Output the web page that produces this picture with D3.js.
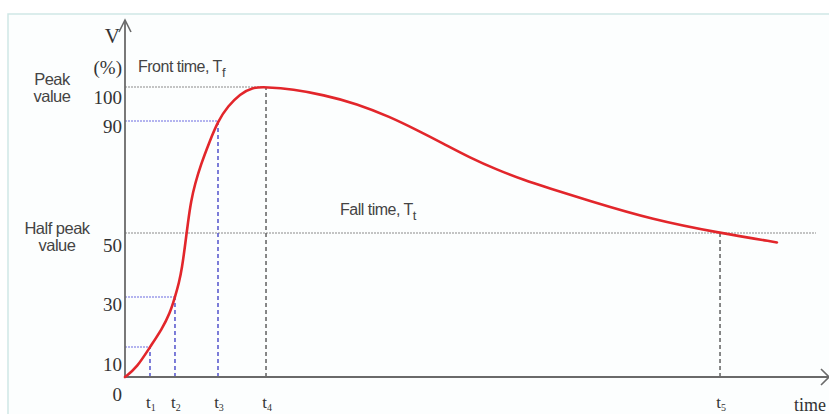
<!DOCTYPE html>
<html>
<head>
<meta charset="utf-8">
<script src="https://cdn.jsdelivr.net/npm/d3@7"></script>
<style>
  html, body { margin: 0; padding: 0; background: #ffffff; }
  svg { display: block; }
</style>
</head>
<body>
<svg id="chart" width="829" height="414"></svg>
<script>
// ---- data -------------------------------------------------------------
// impulse waveform, time in arbitrary units (0..100), voltage in % of peak
const curveTime  = [0, 1.70, 3.55, 5.26, 6.39, 7.10, 7.67, 8.10, 8.52, 8.95, 9.38, 9.94, 10.80, 11.93, 13.21,
                    14.63, 16.34, 18.04, 20.03,
                    23.86, 28.13, 32.95, 37.64, 41.48, 45.17, 49.01, 52.84, 56.53, 60.37, 65.63, 75.0, 84.52, 92.61];
const curveValue = [0, 3.2, 10, 17.2, 23.6, 30, 34.4, 39.1, 45.9, 53.9, 61.4, 67.5, 74.6, 82.1, 90,
                    94.4, 97.9, 99.9, 100,
                    99.35, 97.7, 95.1, 91.2, 86.75, 82.0, 76.9, 72.6, 69.0, 65.9, 61.75, 54.7, 50, 47.06];

// reference instants on the time axis and the level each one marks
const markNames  = ["1", "2", "3", "4", "5"];
const markTimes  = [3.55, 7.10, 13.21, 20.03, 84.52];
const markLevels = [10, 30, 90, 100, 50];
const markKinds  = ["rise", "rise", "rise", "peak", "peak"];

// voltage axis tick labels (%)
const yTickValues = [0, 10, 30, 50, 90, 100];

// ---- layout -----------------------------------------------------------
const svg = d3.select("#chart");
const W = 829, H = 414;

const x = d3.scaleLinear().domain([0, 100]).range([125, 829]);
// schematic (piecewise) voltage scale used for the curve and guide lines
const y = d3.scaleLinear().domain([0, 10, 30, 50, 90, 100]).range([377, 347, 297, 233, 121, 87]);
// evenly spaced scale for the printed voltage labels
const yLabel = d3.scaleLinear().domain([0, 100]).range([400, 103]);

const serif = "'Liberation Serif', 'Times New Roman', serif";
const sans  = "'Liberation Sans', Arial, sans-serif";

// light panel frame
svg.append("rect").attr("x", 8).attr("y", 14).attr("width", W - 8).attr("height", H - 14)
  .attr("fill", "#fcfefe");
svg.append("path").attr("d", `M8,${H} V14 H${W}`)
  .attr("fill", "none").attr("stroke", "#cfe7e6").attr("stroke-width", 1.5);

// ---- guide lines ------------------------------------------------------
const marks = markNames.map((n, i) => ({ n, t: markTimes[i], v: markLevels[i], kind: markKinds[i] }));

// horizontal level lines for the rise points
svg.selectAll("line.hrise").data(marks.filter(d => d.kind === "rise")).join("line")
  .attr("x1", x(0)).attr("x2", d => x(d.t))
  .attr("y1", d => y(d.v)).attr("y2", d => y(d.v))
  .attr("stroke", "#6a6ae0").attr("stroke-width", 1).attr("stroke-dasharray", "2,1");

// peak and half-peak level lines
svg.append("line").attr("x1", x(0)).attr("x2", x(markTimes[3]))
  .attr("y1", y(100)).attr("y2", y(100))
  .attr("stroke", "#8a8a8a").attr("stroke-width", 1).attr("stroke-dasharray", "2,1");
svg.append("line").attr("x1", x(0)).attr("x2", 816)
  .attr("y1", y(50)).attr("y2", y(50))
  .attr("stroke", "#8a8a8a").attr("stroke-width", 1).attr("stroke-dasharray", "2,1");

// vertical dashed drop lines
svg.selectAll("line.vmark").data(marks).join("line")
  .attr("x1", d => x(d.t)).attr("x2", d => x(d.t))
  .attr("y1", y(0)).attr("y2", d => y(d.v))
  .attr("stroke", d => d.kind === "rise" ? "#4646c8" : "#555555")
  .attr("stroke-width", 1.4).attr("stroke-dasharray", "4,3");

// ---- axes -------------------------------------------------------------
const axisColor = "#6a6a6a";
svg.append("line").attr("x1", x(0)).attr("x2", x(0)).attr("y1", y(0) + 1).attr("y2", 20)
  .attr("stroke", axisColor).attr("stroke-width", 1.8);
svg.append("path").attr("d", `M${x(0) - 6},32 L${x(0)},20 L${x(0) + 6},32`)
  .attr("fill", "none").attr("stroke", axisColor).attr("stroke-width", 1.6);
svg.append("line").attr("x1", x(0) - 1).attr("x2", W).attr("y1", y(0)).attr("y2", y(0))
  .attr("stroke", axisColor).attr("stroke-width", 1.8);
svg.append("path").attr("d", `M${W - 8},${y(0) - 8} L${W},${y(0)} L${W - 8},${y(0) + 8}`)
  .attr("fill", "none").attr("stroke", axisColor).attr("stroke-width", 1.6);

// voltage tick labels
const yAxis = d3.axisLeft(yLabel).tickValues(yTickValues).tickSize(0).tickPadding(3).tickFormat(d3.format("d"));
const gy = svg.append("g").attr("transform", `translate(${x(0)},0)`).call(yAxis);
gy.select(".domain").remove();
gy.selectAll("text")
  .attr("font-family", serif).attr("font-size", 19).attr("fill", "#333")
  .attr("dy", 0);

// time tick labels: t with subscript
const gx = svg.append("g");
const tl = gx.selectAll("text").data(marks).join("text")
  .attr("x", d => x(d.t) + 1).attr("y", 408)
  .attr("text-anchor", "middle")
  .attr("font-family", serif).attr("font-size", 17).attr("fill", "#333");
tl.append("tspan").text("t");
tl.append("tspan").attr("font-size", 10).attr("dy", 3).text(d => d.n);

svg.append("text").attr("x", 826).attr("y", 411).attr("text-anchor", "end")
  .attr("font-family", serif).attr("font-size", 18).attr("fill", "#333").text("time");

// axis title
svg.append("text").attr("x", 120).attr("y", 43).attr("text-anchor", "end")
  .attr("font-family", serif).attr("font-size", 21).attr("fill", "#333").text("V");
svg.append("text").attr("x", 122).attr("y", 74).attr("text-anchor", "end")
  .attr("font-family", serif).attr("font-size", 19).attr("fill", "#333").text("(%)");

// level captions
const caption = (lines, cx, y0) => {
  const t = svg.append("text").attr("text-anchor", "middle")
    .attr("font-family", sans).attr("font-size", 16.5).attr("fill", "#444")
    .attr("letter-spacing", -0.5);
  lines.forEach((s, i) => t.append("tspan").attr("x", cx).attr("y", y0 + i * 17).text(s));
};
caption(["Peak", "value"], 52, 85);
caption(["Half peak", "value"], 57, 234);

// interval captions
const interval = (label, sub, x0, y0) => {
  const t = svg.append("text").attr("x", x0).attr("y", y0)
    .attr("font-family", sans).attr("font-size", 16).attr("fill", "#444")
    .attr("letter-spacing", -0.5);
  t.append("tspan").text(label);
  t.append("tspan").attr("font-size", 13).attr("dy", 5).text(sub);
};
interval("Front time, T", "f", 138, 72);
interval("Fall time, T", "t", 340, 215);

// ---- waveform ---------------------------------------------------------
// B-spline through the sampled points keeps the wave free of corners
const pts = curveTime.map((t, i) => [t, curveValue[i]]);
const line = d3.line().x(d => x(d[0])).y(d => y(d[1])).curve(d3.curveBasis);
svg.append("path").datum(pts).attr("d", line)
  .attr("fill", "none").attr("stroke", "#e2262b").attr("stroke-width", 2.6)
  .attr("stroke-linejoin", "round").attr("stroke-linecap", "round");
</script>
</body>
</html>
